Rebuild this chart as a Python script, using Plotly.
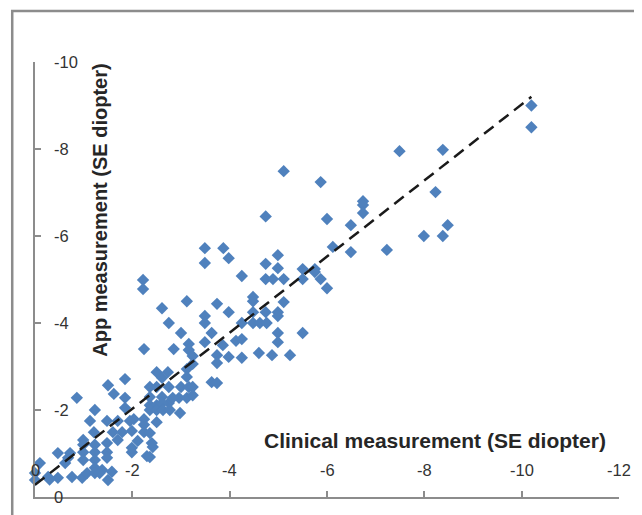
import plotly.graph_objects as go

# Clinical measurement (x) and App measurement (y), SE diopter
clinical = [
    -10.2, -10.2, -8.38, -7.49, -8.23, -5.87, -5.11, -4.74, -6.74, -6.74, -6.74, -6.0, -6.49, -8.48,
    -7.99, -8.38, -6.12, -6.49, -7.23, -5.5, -5.75, -5.75, -5.5, -5.87, -6.0, -5.11, -4.99, -4.99,
    -5.11, -4.99, -4.99, -4.99, -4.99, -5.5, -5.24,
    -3.49, -3.87, -3.49, -3.98, -4.74, -4.25, -4.74, -4.89, -4.48, -4.48, -3.74, -3.98, -3.49, -4.74,
    -4.48, -4.25, -4.48, -4.62, -4.76,
    -2.22, -2.22, -3.12, -2.61, -2.75, -3.49, -3.0, -3.63, -3.49, -3.16, -2.24, -2.85, -3.16, -3.24,
    -3.12, -3.24, -2.5, -2.73, -3.12, -3.63, -3.74, -1.85, -1.5, -1.62, -2.36, -2.5, -2.75, -3.0,
    -3.16, -3.24, -1.85, -2.36, -2.61, -2.36, -2.5, -2.75, -2.96, -3.12,
    -4.13, -4.25, -3.86, -3.74, -3.74, -3.98, -4.25, -4.6, -4.87,
    -2.61, -2.61, -2.83, -3.24, -2.36, -2.5, -2.63, -2.77, -2.98, -2.03, -2.24, -2.5, -2.24, -1.99,
    -2.24, -2.36, -2.11, -2.42, -1.99, -2.3, -2.36,
    -0.86, -1.23, -1.85, -1.13, -1.48, -1.7, -1.95, -1.21, -1.6, -1.79, -1.7, -0.99, -0.99, -1.23,
    -1.48, -0.99, -1.23, -1.48, -1.48, -1.23, -0.47, -0.68, -0.1, -0.62, -0.99, -1.23, -1.38, -0.76,
    -0.47, -0.27, -0.97, -1.07, -1.23, -1.33, -1.5, 0.0, 0.0, -1.58, -1.99, -2.4, -0.72, -0.3,
]
app = [
    -9.0, -8.5, -7.98, -7.95, -7.01, -7.24, -7.49, -6.45, -6.80, -6.71, -6.53, -6.39, -6.25, -6.25,
    -6.0, -6.0, -5.75, -5.63, -5.68, -5.24, -5.24, -5.17, -5.01, -5.01, -4.80, -5.01, -5.56, -5.26,
    -4.48, -4.25, -4.16, -3.77, -3.56, -3.77, -3.26,
    -5.72, -5.72, -5.38, -5.49, -5.36, -5.08, -5.01, -5.01, -4.6, -4.5, -4.44, -4.25, -4.16, -4.25,
    -4.25, -4.0, -4.0, -4.0, -4.0,
    -4.99, -4.78, -4.5, -4.34, -4.0, -4.0, -3.77, -3.77, -3.56, -3.52, -3.40, -3.40, -3.38, -3.24,
    -2.94, -3.06, -2.87, -2.87, -2.76, -2.64, -2.62, -2.71, -2.57, -2.37, -2.53, -2.53, -2.53, -2.53,
    -2.53, -2.53, -2.28, -2.30, -2.30, -2.11, -2.11, -2.16, -2.28, -2.28,
    -3.59, -3.63, -3.49, -3.26, -3.08, -3.22, -3.20, -3.31, -3.26,
    -2.74, -2.16, -2.28, -2.34, -2.0, -2.0, -2.0, -2.0, -1.93, -1.79, -1.79, -1.72, -1.66, -1.52,
    -1.49, -1.47, -1.29, -1.15, -1.03, -0.94, -0.92,
    -2.28, -2.0, -2.05, -1.75, -1.75, -1.75, -1.75, -1.49, -1.49, -1.49, -1.31, -1.31, -1.2, -1.2,
    -1.24, -1.03, -1.03, -1.03, -0.9, -0.85, -1.01, -0.9, -0.78, -0.78, -0.85, -0.67, -0.62, -0.46,
    -0.44, -0.46, -0.44, -0.55, -0.55, -0.55, -0.39, -0.55, -0.39, -0.58, -1.13, -1.24, -1.01, -0.4,
]

# Linear trend line endpoints
trend_x = [0.0, -10.2]
trend_y = [-0.28, -9.2]

x_ticks = [0, -2, -4, -6, -8, -10, -12]
y_ticks = [0, -2, -4, -6, -8, -10]

x_title = "Clinical measurement (SE diopter)"
y_title = "App measurement (SE diopter)"

fig = go.Figure()
fig.add_trace(go.Scatter(
    x=clinical, y=app, mode="markers",
    marker=dict(symbol="diamond", size=9.5, color="#4F81BD"),
    cliponaxis=False, showlegend=False,
))
fig.add_trace(go.Scatter(
    x=trend_x, y=trend_y, mode="lines",
    line=dict(color="#1a1a1a", width=2.5, dash="12px,7px"),
    cliponaxis=False, showlegend=False,
))

axis_common = dict(
    showgrid=False, zeroline=False, showline=True, linecolor="#8c8c8c", linewidth=1.5,
    ticks="inside", ticklen=6, tickcolor="#8c8c8c", tickwidth=1.5,
    showticklabels=False,
)
fig.update_xaxes(range=[0, -12], tickvals=x_ticks, **axis_common)
fig.update_yaxes(range=[0, -10], tickvals=y_ticks, **axis_common)

tick_font = dict(family="Liberation Sans, Arial, sans-serif", size=16.5, color="#333333")
for v in x_ticks:
    fig.add_annotation(text=str(v), x=v, y=0, xref="x", yref="y", showarrow=False,
                       font=tick_font, xanchor="center", yanchor="middle", yshift=27)
for v in y_ticks:
    fig.add_annotation(text=str(v), x=0, y=v, xref="x", yref="y", showarrow=False,
                       font=tick_font, xanchor="left", yanchor="middle", xshift=17)

fig.add_annotation(text="<b>" + x_title + "</b>", xref="paper", yref="paper",
                   x=0.685, y=0.131, showarrow=False,
                   font=dict(family="Liberation Sans, Arial, sans-serif", size=21, color="#262626"),
                   xanchor="center", yanchor="middle")
fig.add_annotation(text="<b>" + y_title + "</b>", xref="paper", yref="paper",
                   x=0.111, y=0.66, showarrow=False, textangle=-90,
                   font=dict(family="Liberation Sans, Arial, sans-serif", size=20, color="#262626"),
                   xanchor="center", yanchor="middle")

# outer frame (top and left edges visible)
fig.add_shape(type="path", xref="paper", yref="paper",
              path="M -0.039 -0.2 L -0.039 1.117 L 1.2 1.117",
              line=dict(color="#8c8c8c", width=2.5))

# page body adds an 8px offset; margins compensate so the plot area lands where it should
fig.update_layout(
    width=642, height=515,
    margin=dict(l=27, r=31, t=54, b=26),
    paper_bgcolor="white", plot_bgcolor="white",
)

fig.write_html("out.html")
